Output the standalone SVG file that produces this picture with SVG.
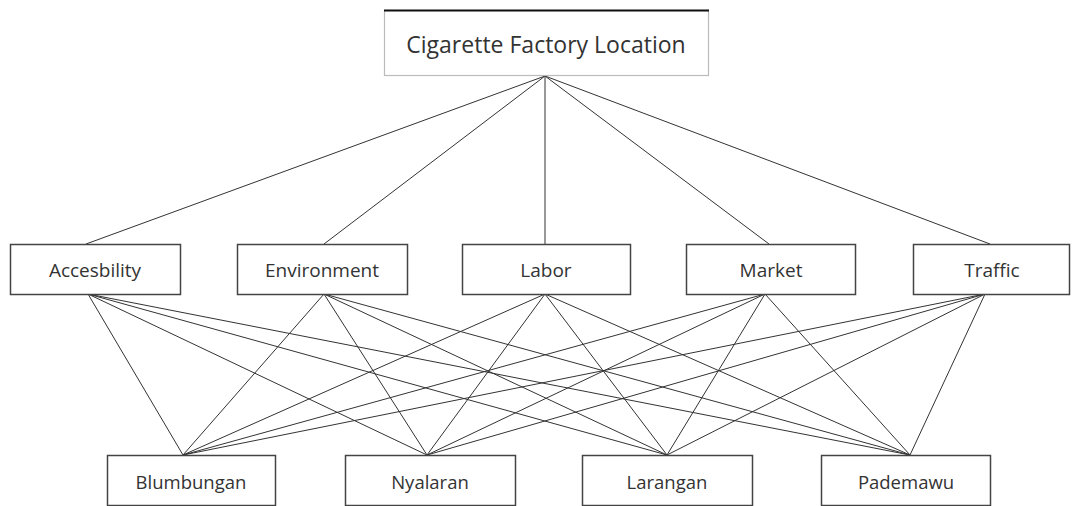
<svg xmlns="http://www.w3.org/2000/svg" width="1072" height="506" viewBox="0 0 1072 506">
<style>
.box{fill:#fff;stroke:#444;stroke-width:1.5}
.top{fill:#fff;stroke:#bbb;stroke-width:1.2}
.lbl{font-family:"Open Sans","Liberation Sans",sans-serif;fill:#333;text-anchor:middle;dominant-baseline:central}
.c line{stroke:#333;stroke-width:1}
</style>
<rect width="1072" height="506" fill="#fff"/>
<g id="connectors" class="c">
<line x1="545" y1="76" x2="86" y2="244"/>
<line x1="545" y1="76" x2="324" y2="244"/>
<line x1="545" y1="76" x2="545" y2="244"/>
<line x1="545" y1="76" x2="769" y2="244"/>
<line x1="545" y1="76" x2="990" y2="244"/>
<line x1="88" y1="294" x2="183" y2="455"/>
<line x1="88" y1="294" x2="427" y2="455"/>
<line x1="88" y1="294" x2="667" y2="455"/>
<line x1="88" y1="294" x2="910" y2="455"/>
<line x1="324" y1="294" x2="183" y2="455"/>
<line x1="324" y1="294" x2="427" y2="455"/>
<line x1="324" y1="294" x2="667" y2="455"/>
<line x1="324" y1="294" x2="910" y2="455"/>
<line x1="545" y1="294" x2="183" y2="455"/>
<line x1="545" y1="294" x2="427" y2="455"/>
<line x1="545" y1="294" x2="667" y2="455"/>
<line x1="545" y1="294" x2="910" y2="455"/>
<line x1="765" y1="294" x2="183" y2="455"/>
<line x1="765" y1="294" x2="427" y2="455"/>
<line x1="765" y1="294" x2="667" y2="455"/>
<line x1="765" y1="294" x2="910" y2="455"/>
<line x1="985" y1="294" x2="183" y2="455"/>
<line x1="985" y1="294" x2="427" y2="455"/>
<line x1="985" y1="294" x2="667" y2="455"/>
<line x1="985" y1="294" x2="910" y2="455"/>
</g>
<g id="goal">
<rect class="top" x="384.5" y="10.5" width="324" height="65"/>
<line x1="384" y1="10.5" x2="709" y2="10.5" stroke="#111" stroke-width="2"/>
<text class="lbl" x="546" y="44" font-size="23">Cigarette Factory Location</text>
</g>
<g id="accesbility">
<rect class="box" x="10.5" y="244.5" width="170" height="50"/>
<text class="lbl" x="95" y="270" font-size="19">Accesbility</text>
</g>
<g id="environment">
<rect class="box" x="237.5" y="244.5" width="170" height="50"/>
<text class="lbl" x="322" y="270" font-size="19">Environment</text>
</g>
<g id="labor">
<rect class="box" x="462.5" y="244.5" width="168" height="50"/>
<text class="lbl" x="546" y="270" font-size="19">Labor</text>
</g>
<g id="market">
<rect class="box" x="686.5" y="244.5" width="169" height="50"/>
<text class="lbl" x="771" y="270" font-size="19">Market</text>
</g>
<g id="traffic">
<rect class="box" x="913.5" y="244.5" width="156" height="50"/>
<text class="lbl" x="992" y="270" font-size="19">Traffic</text>
</g>
<g id="blumbungan">
<rect class="box" x="107.5" y="455.5" width="168" height="50"/>
<text class="lbl" x="191" y="481" font-size="18.5">Blumbungan</text>
</g>
<g id="nyalaran">
<rect class="box" x="345.5" y="455.5" width="170" height="50"/>
<text class="lbl" x="430" y="481" font-size="18.5">Nyalaran</text>
</g>
<g id="larangan">
<rect class="box" x="582.5" y="455.5" width="170" height="50"/>
<text class="lbl" x="667" y="481" font-size="18.5">Larangan</text>
</g>
<g id="pademawu">
<rect class="box" x="821.5" y="455.5" width="169" height="50"/>
<text class="lbl" x="906" y="481" font-size="18.5">Pademawu</text>
</g>
</svg>
